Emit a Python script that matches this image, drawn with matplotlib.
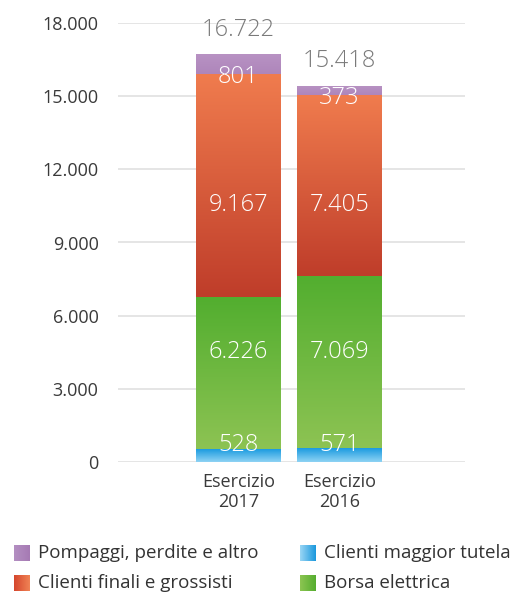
import numpy as np
import matplotlib.pyplot as plt
from matplotlib.colors import LinearSegmentedColormap

plt.rcParams['font.family'] = ['Open Sans', 'DejaVu Sans']

categories = ['Esercizio\n2017', 'Esercizio\n2016']
maggior_tutela = [528, 571]
borsa = [6226, 7069]
clienti_finali = [9167, 7405]
pompaggi = [801, 373]
totals = [16722, 15418]

layers = [
    ('Clienti maggior tutela', maggior_tutela, ('#8fd3f4', '#1b9be0')),
    ('Borsa elettrica', borsa, ('#8dc353', '#52ae2f')),
    ('Clienti finali e grossisti', clienti_finali, ('#bf3d2a', '#f07c4e')),
    ('Pompaggi, perdite e altro', pompaggi, ('#ae86bb', '#b892c3')),
]


def fmt(v):
    return f'{v:,}'.replace(',', '.')


fig = plt.figure(figsize=(5.32, 5.95), dpi=100)
ax = fig.add_axes([118 / 532, 1 - 462 / 595, 347 / 532, 439 / 595])

x = np.arange(len(categories))
width = 0.84
bottom = np.zeros(len(categories))
grad = np.linspace(0, 1, 256).reshape(-1, 1)
for name, vals, (c0, c1) in layers:
    cmap = LinearSegmentedColormap.from_list(name, [c0, c1])
    bars = ax.bar(x, vals, width, bottom=bottom, color='none', linewidth=0, zorder=3)
    for b, v, y0 in zip(bars, vals, bottom):
        im = ax.imshow(grad, cmap=cmap, origin='lower', aspect='auto',
                       extent=[b.get_x(), b.get_x() + width, y0, y0 + v], zorder=3)
        im.set_clip_path(b)
    bottom += np.array(vals)

# value labels
lbl = dict(ha='center', va='center', color='white', fontsize=17, fontweight='light', zorder=5)
for i in x:
    ax.text(i, 700, fmt(maggior_tutela[i]), **lbl)
    ax.text(i, 4500, fmt(borsa[i]), **lbl)
    ax.text(i, 10550, fmt(clienti_finali[i]), **lbl)
    ax.text(i, totals[i] - pompaggi[i] - 140, fmt(pompaggi[i]), **lbl)
    ax.annotate(fmt(totals[i]), (i, totals[i]), xytext=(0, 9), textcoords='offset points',
                ha='center', va='bottom', color='#7a7a7a', fontsize=17, fontweight='light',
                zorder=5, annotation_clip=False)

ax.set_xlim(-1.193, 2.243)
ax.set_ylim(0, 18000)
ax.set_yticks(np.arange(0, 18001, 3000))
ax.set_yticklabels([fmt(v) for v in range(0, 18001, 3000)])
ax.set_xticks(x)
ax.set_xticklabels(categories, linespacing=1.1)
ax.tick_params(length=0, labelsize=13, colors='#3a3a3a')
ax.tick_params(axis='y', pad=14)
ax.tick_params(axis='x', pad=8)
ax.grid(axis='y', color='#e0e0e0', linewidth=1.2, zorder=0)
ax.set_axisbelow(True)
for s in ax.spines.values():
    s.set_visible(False)

# legend with gradient swatches
legend = [
    ('Pompaggi, perdite e altro', ('#b48fc2', '#a57ab3'), 14, 553),
    ('Clienti maggior tutela', ('#9ad6f5', '#1a98dd'), 300, 553),
    ('Clienti finali e grossisti', ('#d5462d', '#f08355'), 14, 583),
    ('Borsa elettrica', ('#8cc552', '#55ad2f'), 300, 583),
]
hgrad = np.linspace(0, 1, 64).reshape(1, -1)
for label, (c0, c1), px, py in legend:
    sw = fig.add_axes([px / 532, 1 - (py + 8) / 595, 16 / 532, 16 / 595])
    sw.imshow(hgrad, cmap=LinearSegmentedColormap.from_list(label, [c0, c1]), aspect='auto')
    sw.axis('off')
    fig.text((px + 24) / 532, 1 - py / 595, label, ha='left', va='center', fontsize=13.5, color='#333333')

fig.savefig('out.png', dpi=100)
